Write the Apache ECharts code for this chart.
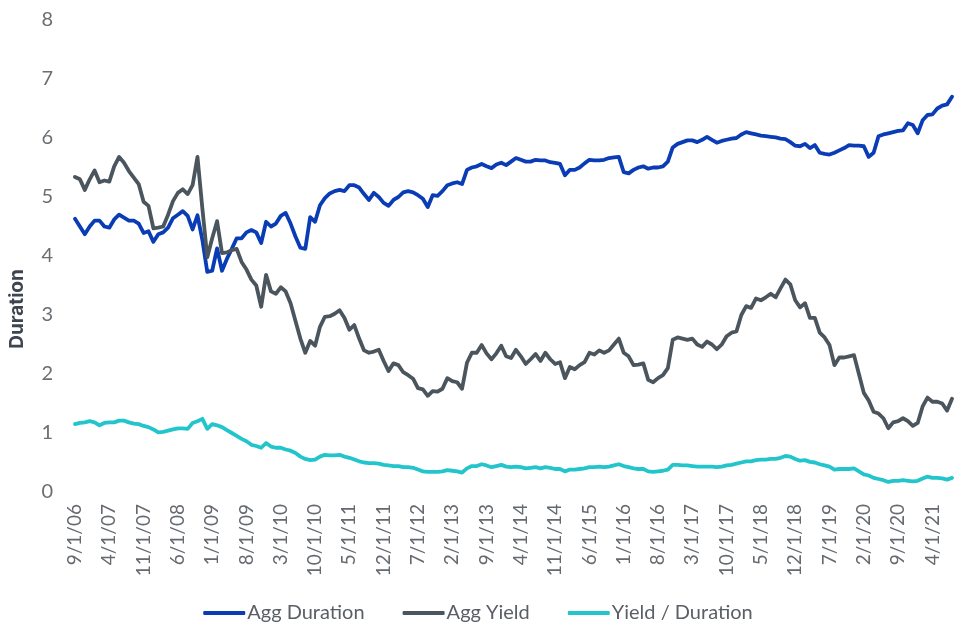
<!DOCTYPE html>
<html>
<head>
<meta charset="utf-8">
<title>Agg Duration vs Agg Yield</title>
<script src="https://cdn.jsdelivr.net/npm/echarts@6/dist/echarts.min.js"></script>
<style>
  html, body { margin: 0; padding: 0; background: #ffffff; }
  #chart { width: 956px; height: 626px; }
</style>
</head>
<body>
<div id="chart"></div>
<script>
// Monthly observations, Sep 2006 through Aug 2021
const startYear = 2006;
const startMonth = 9;
const monthCount = 180;

const months = [];
for (let i = 0; i < monthCount; i++) {
  const total = (startMonth - 1) + i;
  const y = startYear + Math.floor(total / 12);
  const m = (total % 12) + 1;
  months.push(m + '/1/' + String(y % 100).padStart(2, '0'));
}

const aggDuration = [
  4.63, 4.50, 4.37, 4.50, 4.60, 4.60, 4.50, 4.48, 4.62, 4.70,
  4.65, 4.60, 4.60, 4.55, 4.39, 4.42, 4.24, 4.37, 4.40, 4.48,
  4.64, 4.70, 4.76, 4.68, 4.45, 4.69, 4.27, 3.73, 3.75, 4.13,
  3.75, 3.95, 4.12, 4.30, 4.30, 4.40, 4.44, 4.40, 4.22, 4.58,
  4.50, 4.55, 4.68, 4.73, 4.55, 4.33, 4.14, 4.12, 4.66, 4.58,
  4.86, 4.98, 5.06, 5.10, 5.12, 5.10, 5.20, 5.20, 5.16, 5.05,
  4.95, 5.07, 5.00, 4.90, 4.85, 4.95, 5.00, 5.08, 5.10, 5.08,
  5.03, 4.97, 4.83, 5.03, 5.02, 5.10, 5.20, 5.23, 5.25, 5.22,
  5.46, 5.50, 5.52, 5.56, 5.52, 5.49, 5.55, 5.58, 5.54, 5.60,
  5.66, 5.63, 5.60, 5.60, 5.63, 5.62, 5.62, 5.59, 5.58, 5.56,
  5.37, 5.46, 5.46, 5.50, 5.57, 5.63, 5.62, 5.62, 5.63, 5.66,
  5.67, 5.68, 5.42, 5.40, 5.46, 5.50, 5.52, 5.48, 5.50, 5.50,
  5.52, 5.60, 5.84, 5.90, 5.93, 5.96, 5.96, 5.93, 5.97, 6.02,
  5.97, 5.92, 5.95, 5.97, 5.99, 6.00, 6.06, 6.10, 6.08, 6.06,
  6.04, 6.03, 6.02, 6.01, 5.99, 5.98, 5.93, 5.87, 5.86, 5.90,
  5.83, 5.88, 5.75, 5.73, 5.72, 5.75, 5.79, 5.83, 5.88, 5.87,
  5.87, 5.86, 5.68, 5.75, 6.03, 6.06, 6.08, 6.10, 6.12, 6.13,
  6.25, 6.22, 6.08, 6.30, 6.39, 6.40, 6.50, 6.55, 6.57, 6.70
];

const aggYield = [
  5.34, 5.30, 5.12, 5.30, 5.45, 5.25, 5.28, 5.26, 5.52, 5.68,
  5.58, 5.44, 5.33, 5.22, 4.92, 4.85, 4.47, 4.48, 4.50, 4.70,
  4.93, 5.07, 5.13, 5.05, 5.20, 5.68, 4.80, 3.98, 4.30, 4.59,
  4.05, 4.06, 4.10, 4.12, 3.90, 3.77, 3.60, 3.50, 3.14, 3.68,
  3.40, 3.36, 3.47, 3.40, 3.20, 2.90, 2.60, 2.36, 2.56, 2.48,
  2.80, 2.97, 2.98, 3.02, 3.08, 2.95, 2.75, 2.83, 2.60, 2.40,
  2.36, 2.38, 2.41, 2.22, 2.05, 2.18, 2.15, 2.03, 1.98, 1.92,
  1.76, 1.74, 1.63, 1.71, 1.70, 1.75, 1.93, 1.88, 1.86, 1.75,
  2.19, 2.36, 2.36, 2.49, 2.35, 2.25, 2.35, 2.48, 2.30, 2.27,
  2.41, 2.30, 2.17, 2.25, 2.34, 2.22, 2.36, 2.25, 2.17, 2.20,
  1.93, 2.12, 2.08, 2.15, 2.20, 2.36, 2.33, 2.40, 2.36, 2.40,
  2.50, 2.60, 2.36, 2.30, 2.15, 2.16, 2.18, 1.90, 1.86, 1.93,
  1.98, 2.10, 2.58, 2.62, 2.60, 2.58, 2.60, 2.50, 2.46, 2.55,
  2.50, 2.42, 2.50, 2.64, 2.70, 2.72, 3.00, 3.15, 3.12, 3.28,
  3.25, 3.30, 3.36, 3.30, 3.45, 3.60, 3.52, 3.25, 3.13, 3.20,
  2.95, 2.95, 2.70, 2.62, 2.49, 2.15, 2.28, 2.28, 2.30, 2.32,
  2.00, 1.68, 1.55, 1.36, 1.33, 1.25, 1.08, 1.18, 1.20, 1.25,
  1.20, 1.12, 1.17, 1.45, 1.60, 1.53, 1.53, 1.50, 1.38, 1.58
];

const yieldPerDuration = [
  1.15, 1.17, 1.18, 1.20, 1.18, 1.13, 1.17, 1.18, 1.18, 1.21,
  1.21, 1.18, 1.16, 1.15, 1.12, 1.10, 1.06, 1.01, 1.02, 1.04,
  1.06, 1.08, 1.08, 1.07, 1.17, 1.20, 1.24, 1.07, 1.15, 1.13,
  1.10, 1.05, 1.00, 0.95, 0.90, 0.86, 0.80, 0.78, 0.75, 0.83,
  0.77, 0.75, 0.75, 0.72, 0.70, 0.66, 0.60, 0.56, 0.54, 0.55,
  0.60, 0.63, 0.62, 0.62, 0.63, 0.60, 0.58, 0.55, 0.52, 0.50,
  0.49, 0.49, 0.48, 0.46, 0.45, 0.44, 0.44, 0.42, 0.42, 0.41,
  0.38, 0.35, 0.34, 0.34, 0.34, 0.35, 0.37, 0.36, 0.35, 0.33,
  0.40, 0.44, 0.44, 0.47, 0.45, 0.42, 0.44, 0.46, 0.43, 0.42,
  0.43, 0.42, 0.40, 0.41, 0.42, 0.40, 0.42, 0.41, 0.39, 0.39,
  0.35, 0.38, 0.38, 0.39, 0.40, 0.42, 0.42, 0.43, 0.42, 0.43,
  0.45, 0.47, 0.44, 0.42, 0.40, 0.39, 0.39, 0.35, 0.34, 0.35,
  0.36, 0.38, 0.46, 0.46, 0.45, 0.45, 0.44, 0.43, 0.43, 0.43,
  0.43, 0.42, 0.43, 0.45, 0.46, 0.48, 0.50, 0.52, 0.52, 0.54,
  0.55, 0.55, 0.56, 0.56, 0.58, 0.61, 0.60, 0.56, 0.53, 0.54,
  0.51, 0.50, 0.47, 0.45, 0.43, 0.38, 0.39, 0.39, 0.39, 0.40,
  0.35, 0.30, 0.28, 0.24, 0.22, 0.20, 0.17, 0.19, 0.19, 0.20,
  0.19, 0.18, 0.19, 0.23, 0.26, 0.24, 0.24, 0.23, 0.21, 0.24
];

const yTicks = { min: 0, max: 8, interval: 1 };
const seriesNames = ['Agg Duration', 'Agg Yield', 'Yield / Duration'];
const seriesColors = ['#0a3db5', '#4b555e', '#22c5cb'];

const chart = echarts.init(document.getElementById('chart'), null, { renderer: 'canvas' });

const fontFamily = 'Lato, "Open Sans", sans-serif';

function lineSeries(name, data, color) {
  return {
    name: name,
    type: 'line',
    data: data,
    showSymbol: false,
    symbol: 'none',
    smooth: false,
    lineStyle: { color: color, width: 3.8, cap: 'round', join: 'round' },
    itemStyle: { color: color },
    emphasis: { disabled: true }
  };
}

chart.setOption({
  animation: false,
  backgroundColor: '#ffffff',
  color: seriesColors,
  textStyle: { fontFamily: fontFamily },
  grid: { left: 75, right: 4, top: 20, bottom: 134, containLabel: false },
  legend: {
    top: 598,
    left: 'center',
    icon: 'roundRect',
    itemWidth: 42,
    itemHeight: 4,
    itemGap: 38,
    textStyle: { fontFamily: fontFamily, fontSize: 20, color: '#5a5f66', padding: [0, 0, 0, -3] },
    data: seriesNames
  },
  xAxis: {
    type: 'category',
    data: months,
    boundaryGap: false,
    axisLine: { show: false },
    axisTick: { show: false },
    splitLine: { show: false },
    axisLabel: {
      interval: 6,
      rotate: 90,
      margin: 12,
      fontSize: 19,
      color: '#656a70',
      fontFamily: fontFamily
    }
  },
  yAxis: {
    type: 'value',
    min: yTicks.min,
    max: yTicks.max,
    interval: yTicks.interval,
    axisLine: { show: false },
    axisTick: { show: false },
    splitLine: { show: false },
    axisLabel: { fontSize: 20, color: '#6a6f74', margin: 22, fontFamily: fontFamily }
  },
  graphic: [{
    type: 'text',
    x: 17,
    y: 309,
    rotation: Math.PI / 2,
    style: {
      text: 'Duration',
      fontFamily: 'Inter, Lato, sans-serif',
      fontSize: 19,
      fontWeight: 'bold',
      fill: '#3d4650',
      align: 'center',
      verticalAlign: 'middle'
    }
  }],
  series: [
    lineSeries(seriesNames[0], aggDuration, seriesColors[0]),
    lineSeries(seriesNames[1], aggYield, seriesColors[1]),
    lineSeries(seriesNames[2], yieldPerDuration, seriesColors[2])
  ]
});
</script>
</body>
</html>
